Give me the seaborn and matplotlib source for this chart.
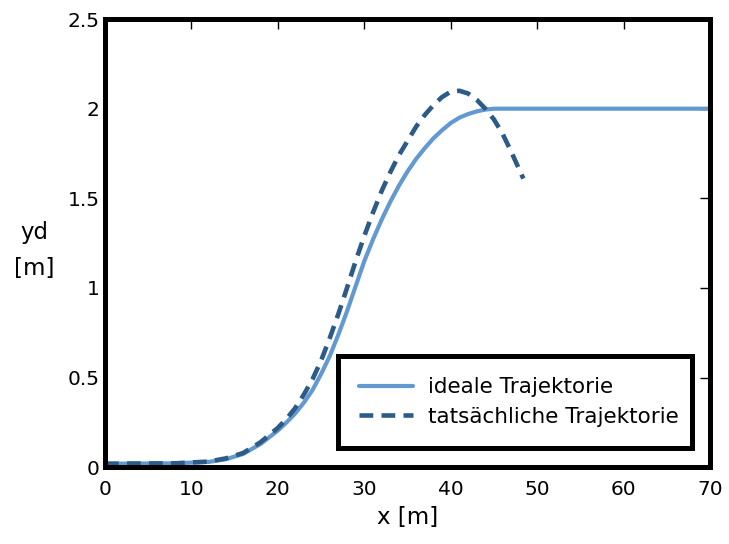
import matplotlib
matplotlib.use("Agg")
import matplotlib.pyplot as plt
import seaborn as sns
import pandas as pd

# ideal trajectory
x_ideal = [0, 8, 12, 14, 16, 18, 20, 21, 22, 23, 24, 25, 26, 27, 28, 29, 30, 31, 32, 33, 34, 35,
           36, 37, 38, 39, 40, 41, 42, 43, 44, 45, 50, 60, 70]
y_ideal = [0.02, 0.022, 0.03, 0.045, 0.075, 0.13, 0.205, 0.25, 0.30, 0.36, 0.43, 0.52, 0.62, 0.74,
           0.87, 1.01, 1.15, 1.27, 1.38, 1.48, 1.57, 1.65, 1.72, 1.78, 1.835, 1.88, 1.92, 1.95,
           1.97, 1.985, 1.995, 2.0, 2.0, 2.0, 2.0]

# actual trajectory
x_real = [0, 8, 12, 14, 16, 18, 20, 21, 22, 23, 24, 25, 26, 27, 28, 29, 30, 31, 32, 33, 34, 35,
          36, 37, 38, 39, 40, 41, 42, 43, 44, 45, 46, 47, 48.4]
y_real = [0.02, 0.022, 0.032, 0.05, 0.08, 0.14, 0.22, 0.27, 0.33, 0.405, 0.49, 0.595, 0.72, 0.855,
          1.0, 1.15, 1.29, 1.42, 1.54, 1.645, 1.74, 1.82, 1.90, 1.965, 2.02, 2.065, 2.095, 2.10,
          2.085, 2.05, 2.0, 1.94, 1.86, 1.76, 1.61]

label_ideal = "ideale Trajektorie"
label_real = "tatsächliche Trajektorie"

sns.set_style("white")
plt.rcParams['font.family'] = ['DejaVu Sans']
plt.rcParams['text.color'] = 'black'
plt.rcParams['axes.labelcolor'] = 'black'
plt.rcParams['xtick.color'] = 'black'
plt.rcParams['ytick.color'] = 'black'

fig = plt.figure(figsize=(7.29, 5.44), dpi=100)
ax = fig.add_axes([0.144, 0.141, 0.83, 0.824])

df_ideal = pd.DataFrame({"x": x_ideal, "y": y_ideal})
df_real = pd.DataFrame({"x": x_real, "y": y_real})

sns.lineplot(data=df_ideal, x="x", y="y", ax=ax, color="#6299d0", linewidth=3.0,
             label=label_ideal, sort=False)
sns.lineplot(data=df_real, x="x", y="y", ax=ax, color="#2b5b86", linewidth=3.3,
             linestyle=(0, (3.0, 1.8)), label=label_real, sort=False)

ax.set_xlim(0, 70)
ax.set_ylim(0, 2.5)
ax.set_xticks(range(0, 71, 10))
ax.set_yticks([0, 0.5, 1, 1.5, 2, 2.5])
ax.set_yticklabels(["0", "0.5", "1", "1.5", "2", "2.5"])
ax.tick_params(direction="in", length=7, width=1, top=True, right=True, labelsize=14.5)
ax.tick_params(axis="x", pad=9)
ax.tick_params(axis="y", pad=4)

for s in ax.spines.values():
    s.set_linewidth(3.6)
    s.set_color("black")

ax.set_xlabel("x [m]", fontsize=16.5, labelpad=5)
ax.set_ylabel("yd\n[m]", fontsize=16.5, rotation=0, ha="center", va="center",
              linespacing=1.7)
ax.yaxis.set_label_coords(-0.117, 0.483)

leg = ax.legend(loc="upper left", bbox_to_anchor=(0.385, 0.249, 0.585, 0.0), mode="expand",
                fontsize=15.5, frameon=True, fancybox=False, handlelength=2.5,
                handletextpad=0.7, borderpad=1.0, labelspacing=0.45, borderaxespad=0)
leg.get_frame().set_edgecolor("black")
leg.get_frame().set_linewidth(3.6)
leg.get_frame().set_alpha(1)

fig.savefig("out.png", dpi=100)
